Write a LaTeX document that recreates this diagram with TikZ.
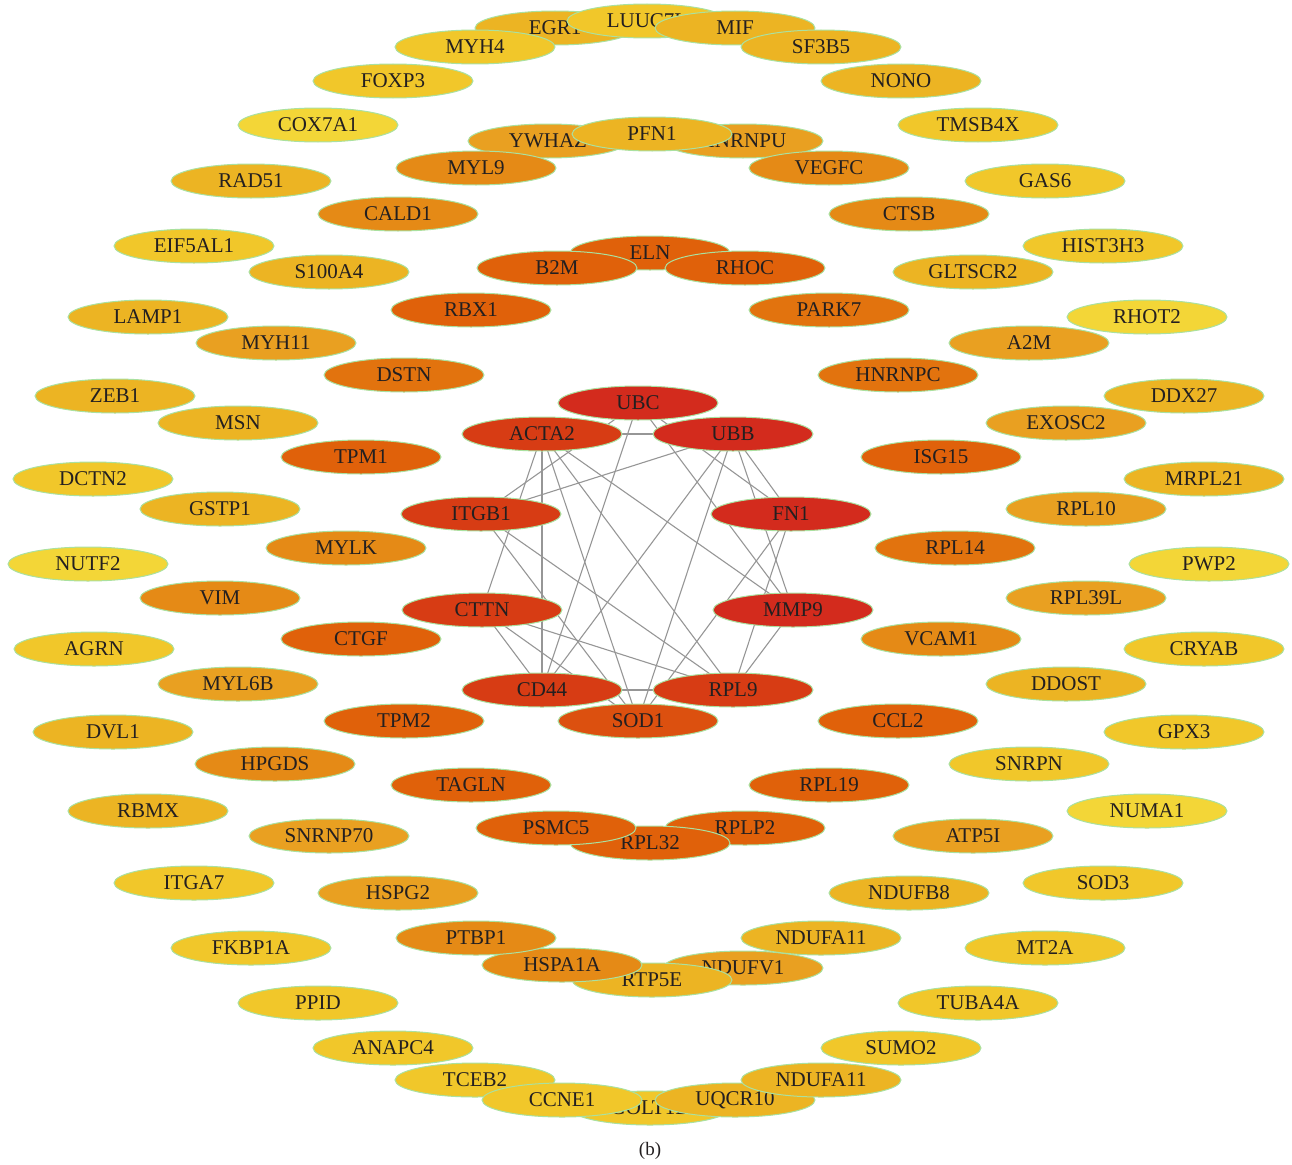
\documentclass[tikz,border=0pt]{standalone}
\usepackage{fontspec}
\setmainfont{Liberation Serif}
\usetikzlibrary{shapes.geometric,backgrounds}
\definecolor{ca}{RGB}{211,43,29}
\definecolor{cb}{RGB}{215,60,20}
\definecolor{cc}{RGB}{220,80,15}
\definecolor{cd}{RGB}{224,97,10}
\definecolor{ce}{RGB}{226,115,14}
\definecolor{cf}{RGB}{229,138,22}
\definecolor{cg}{RGB}{233,160,33}
\definecolor{ch}{RGB}{236,180,35}
\definecolor{ci}{RGB}{241,199,42}
\definecolor{cj}{RGB}{243,214,55}
\definecolor{rim}{RGB}{170,225,160}
\definecolor{txt}{RGB}{35,31,32}
\definecolor{edg}{RGB}{150,150,150}
\tikzset{
  gene/.style={ellipse, draw=rim, line width=1pt, minimum width=160pt, minimum height=34pt, inner sep=0pt,
    text=txt, font=\fontsize{21}{21}\selectfont},
  link/.style={draw=edg, line width=1.1pt}
}
\begin{document}
\begin{tikzpicture}[x=1pt,y=-1pt]
\useasboundingbox (0,0) rectangle (1292,1164);
% top cluster
\node[gene,fill=ch] (EGR1) at (555,28) {EGR1};
\node[gene,fill=ci] (LUUC7L) at (647,21) {LUUC7L};
\node[gene,fill=ch] (MIF) at (735,28) {MIF};
\node[gene,fill=ci] (MYH4) at (475,47) {MYH4};
\node[gene,fill=ch] (SF3B5) at (821,47) {SF3B5};
\node[gene,fill=ci] (FOXP3) at (393,81) {FOXP3};
\node[gene,fill=ch] (NONO) at (901,81) {NONO};
\node[gene,fill=cj] (COX7A1) at (318,125) {COX7A1};
\node[gene,fill=ci] (TMSB4X) at (978,125) {TMSB4X};
\node[gene,fill=cg] (YWHAZ) at (548,141) {YWHAZ};
\node[gene,fill=cg] (HNRNPU) at (743,141) {HNRNPU};
\node[gene,fill=ch] (PFN1) at (652,134) {PFN1};
\node[gene,fill=cf] (MYL9) at (476,168) {MYL9};
\node[gene,fill=cf] (VEGFC) at (829,168) {VEGFC};
\node[gene,fill=ch] (RAD51) at (251,181) {RAD51};
\node[gene,fill=ci] (GAS6) at (1045,181) {GAS6};
\node[gene,fill=cf] (CALD1) at (398,214) {CALD1};
\node[gene,fill=cf] (CTSB) at (909,214) {CTSB};
\node[gene,fill=ci] (EIF5AL1) at (194,246) {EIF5AL1};
\node[gene,fill=ci] (HIST3H3) at (1103,246) {HIST3H3};
\node[gene,fill=cd] (ELN) at (650,253) {ELN};
\node[gene,fill=cd] (B2M) at (557,268) {B2M};
\node[gene,fill=cd] (RHOC) at (745,268) {RHOC};
\node[gene,fill=ch] (S100A4) at (329,272) {S100A4};
\node[gene,fill=ch] (GLTSCR2) at (973,272) {GLTSCR2};
\node[gene,fill=cd] (RBX1) at (471,310) {RBX1};
\node[gene,fill=ce] (PARK7) at (829,310) {PARK7};
\node[gene,fill=ch] (LAMP1) at (148,317) {LAMP1};
\node[gene,fill=cj] (RHOT2) at (1147,317) {RHOT2};
\node[gene,fill=cg] (MYH11) at (276,343) {MYH11};
\node[gene,fill=cg] (A2M) at (1029,343) {A2M};
\node[gene,fill=ce] (DSTN) at (404,375) {DSTN};
\node[gene,fill=ce] (HNRNPC) at (898,375) {HNRNPC};
\node[gene,fill=ch] (ZEB1) at (115,396) {ZEB1};
\node[gene,fill=ch] (DDX27) at (1184,396) {DDX27};
\node[gene,fill=ch] (MSN) at (238,423) {MSN};
\node[gene,fill=cg] (EXOSC2) at (1066,423) {EXOSC2};
\node[gene,fill=cd] (TPM1) at (361,457) {TPM1};
\node[gene,fill=cd] (ISG15) at (941,457) {ISG15};
\node[gene,fill=ci] (DCTN2) at (93,479) {DCTN2};
\node[gene,fill=ch] (MRPL21) at (1204,479) {MRPL21};
\node[gene,fill=ch] (GSTP1) at (220,509) {GSTP1};
\node[gene,fill=cg] (RPL10) at (1086,509) {RPL10};
\node[gene,fill=cf] (MYLK) at (346,548) {MYLK};
\node[gene,fill=ce] (RPL14) at (955,548) {RPL14};
\node[gene,fill=cj] (NUTF2) at (88,564) {NUTF2};
\node[gene,fill=cj] (PWP2) at (1209,564) {PWP2};
\node[gene,fill=cf] (VIM) at (220,598) {VIM};
\node[gene,fill=cg] (RPL39L) at (1086,598) {RPL39L};
\node[gene,fill=cd] (CTGF) at (361,639) {CTGF};
\node[gene,fill=cf] (VCAM1) at (941,639) {VCAM1};
\node[gene,fill=ci] (AGRN) at (94,649) {AGRN};
\node[gene,fill=ci] (CRYAB) at (1204,649) {CRYAB};
\node[gene,fill=cg] (MYL6B) at (238,684) {MYL6B};
\node[gene,fill=ch] (DDOST) at (1066,684) {DDOST};
\node[gene,fill=cd] (TPM2) at (404,721) {TPM2};
\node[gene,fill=cd] (CCL2) at (898,721) {CCL2};
\node[gene,fill=ch] (DVL1) at (113,732) {DVL1};
\node[gene,fill=ci] (GPX3) at (1184,732) {GPX3};
\node[gene,fill=cf] (HPGDS) at (275,764) {HPGDS};
\node[gene,fill=ci] (SNRPN) at (1029,764) {SNRPN};
\node[gene,fill=cd] (TAGLN) at (471,785) {TAGLN};
\node[gene,fill=cd] (RPL19) at (829,785) {RPL19};
\node[gene,fill=ch] (RBMX) at (148,811) {RBMX};
\node[gene,fill=cj] (NUMA1) at (1147,811) {NUMA1};
\node[gene,fill=cd] (RPLP2) at (745,828) {RPLP2};
\node[gene,fill=cd] (RPL32) at (650,843) {RPL32};
\node[gene,fill=cd] (PSMC5) at (556,828) {PSMC5};
\node[gene,fill=cg] (SNRNP70) at (329,836) {SNRNP70};
\node[gene,fill=cg] (ATP5I) at (973,836) {ATP5I};
\node[gene,fill=ci] (ITGA7) at (194,883) {ITGA7};
\node[gene,fill=ci] (SOD3) at (1103,883) {SOD3};
\node[gene,fill=cg] (HSPG2) at (398,893) {HSPG2};
\node[gene,fill=ch] (NDUFB8) at (909,893) {NDUFB8};
\node[gene,fill=ci] (FKBP1A) at (251,948) {FKBP1A};
\node[gene,fill=ci] (MT2A) at (1045,948) {MT2A};
\node[gene,fill=cg] (NDUFV1) at (743,968) {NDUFV1};
\node[gene,fill=ch] (RTP5E) at (652,980) {RTP5E};
\node[gene,fill=cf] (HSPA1A) at (562,965) {HSPA1A};
\node[gene,fill=cf] (PTBP1) at (476,938) {PTBP1};
\node[gene,fill=ch] (NDUFA11a) at (821,938) {NDUFA11};
\node[gene,fill=ci] (PPID) at (318,1003) {PPID};
\node[gene,fill=ci] (TUBA4A) at (978,1003) {TUBA4A};
\node[gene,fill=ci] (ANAPC4) at (393,1048) {ANAPC4};
\node[gene,fill=ci] (SUMO2) at (901,1048) {SUMO2};
\node[gene,fill=ci] (GOLT1B) at (650,1108) {GOLT1B};
\node[gene,fill=ci] (TCEB2) at (475,1080) {TCEB2};
\node[gene,fill=ci] (CCNE1) at (562,1100) {CCNE1};
\node[gene,fill=ch] (UQCR10) at (735,1100) {UQCR10};
\node[gene,fill=ch] (NDUFA11b) at (821,1080) {NDUFA11};
% central cluster
\node[gene,fill=ca] (UBC) at (638,403) {UBC};
\node[gene,fill=cb] (ACTA2) at (542,434) {ACTA2};
\node[gene,fill=ca] (UBB) at (733,434) {UBB};
\node[gene,fill=cb] (ITGB1) at (481,514) {ITGB1};
\node[gene,fill=ca] (FN1) at (791,514) {FN1};
\node[gene,fill=cb] (CTTN) at (482,610) {CTTN};
\node[gene,fill=ca] (MMP9) at (793,610) {MMP9};
\node[gene,fill=cc] (SOD1) at (638,721) {SOD1};
\node[gene,fill=cb] (CD44) at (542,690) {CD44};
\node[gene,fill=cb] (RPL9) at (733,690) {RPL9};
\begin{pgfonlayer}{background}
\foreach \a/\b in {UBC/ITGB1,UBC/CD44,UBC/FN1,UBC/MMP9,
  ACTA2/UBB,ACTA2/CTTN,ACTA2/CD44,ACTA2/SOD1,ACTA2/RPL9,ACTA2/MMP9,
  UBB/ITGB1,UBB/CD44,UBB/SOD1,UBB/MMP9,UBB/FN1,
  ITGB1/SOD1,ITGB1/RPL9,CTTN/CD44,CTTN/SOD1,CTTN/RPL9,
  FN1/RPL9,FN1/SOD1,MMP9/RPL9,CD44/RPL9}
  \draw[link] (\a.center) -- (\b.center);
\end{pgfonlayer}
\node[text=txt, font=\fontsize{19}{19}\selectfont] (cap) at (650,1151) {(b)};
\end{tikzpicture}
\end{document}
